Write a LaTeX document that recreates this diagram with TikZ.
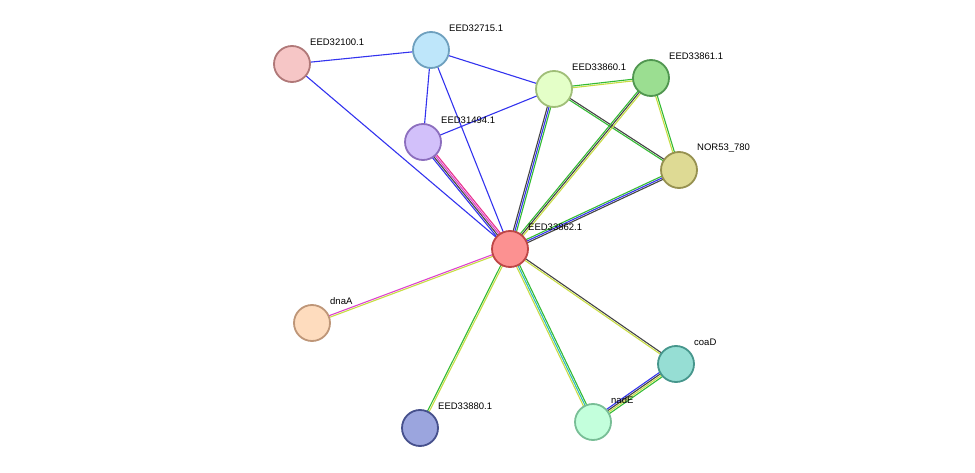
\documentclass[tikz,border=0pt]{standalone}
\usepackage{fontspec}
\setmainfont{Liberation Sans}
\usetikzlibrary{calc,positioning}
\definecolor{eblue}{HTML}{3333ee}
\definecolor{egreen}{HTML}{33bb33}
\definecolor{eyellow}{HTML}{c8dd44}
\definecolor{edark}{HTML}{444444}
\definecolor{emag}{HTML}{dd44cc}
\definecolor{ecyan}{HTML}{33bbbb}
\tikzset{
  prot/.style={circle, draw, line width=1.8pt, minimum size=36pt, inner sep=0pt},
  lbl/.style={anchor=west, inner sep=1pt, font=\fontsize{9.5}{11}\selectfont},
  link/.style={line width=1.1pt}
}
% #1, #2: nodes, #3: list of offset/colour
\newcommand\edgeset[3]{%
  \foreach \o/\c in {#3} {
    \draw[link, color=\c] ($(#1)!\o*1.7pt!90:(#2)$) -- ($(#2)!\o*1.7pt!-90:(#1)$);
  }}
\begin{document}
\begin{tikzpicture}[x=1pt, y=-1pt]
  \useasboundingbox (0,0) rectangle (975,473);
  % positions
  \coordinate (p32100) at (292,64);
  \coordinate (p32715) at (431,50);
  \coordinate (p33860) at (554,89);
  \coordinate (p33861) at (651,78);
  \coordinate (p31494) at (423,142);
  \coordinate (pnor) at (679,170);
  \coordinate (p33862) at (510,249);
  \coordinate (pdnaA) at (312,323);
  \coordinate (pcoaD) at (676,364);
  \coordinate (pnadE) at (593,422);
  \coordinate (p33880) at (420,428);

  \edgeset{p32100}{p32715}{0/eblue}
  \edgeset{p32100}{p33862}{0/eblue}
  \edgeset{p32715}{p31494}{0/eblue}
  \edgeset{p32715}{p33862}{0/eblue}
  \edgeset{p32715}{p33860}{0/eblue}
  \edgeset{p31494}{p33860}{0/eblue}
  \edgeset{p31494}{p33862}{-1.5/eblue,-0.5/edark,0.5/emag,1.5/emag!70!red}
  \edgeset{p33860}{p33861}{-0.5/eyellow,0.5/egreen}
  \edgeset{p33860}{pnor}{-0.5/egreen,0.5/edark}
  \edgeset{p33860}{p33862}{-1/edark,0/eblue,1/egreen}
  \edgeset{p33861}{pnor}{-0.5/eyellow,0.5/egreen}
  \edgeset{p33861}{p33862}{-1/egreen,0/edark,1/eyellow}
  \edgeset{pnor}{p33862}{-1/egreen,0/eblue,1/edark}
  \edgeset{pdnaA}{p33862}{-0.5/eyellow,0.5/emag}
  \edgeset{p33880}{p33862}{-0.5/eyellow,0.5/egreen}
  \edgeset{pnadE}{p33862}{-1/egreen,0/ecyan,1/eyellow}
  \edgeset{pcoaD}{p33862}{-0.5/edark,0.5/eyellow}
  \edgeset{pcoaD}{pnadE}{-1.5/eblue,-0.5/edark,0.5/eyellow,1.5/egreen}

  \node[prot, draw={rgb,255:red,176;green,120;blue,120}, fill={rgb,255:red,246;green,198;blue,198}] (n32100) at (p32100) {};
  \node[prot, draw={rgb,255:red,110;green,160;blue,190}, fill={rgb,255:red,190;green,230;blue,250}] (n32715) at (p32715) {};
  \node[prot, draw={rgb,255:red,160;green,190;blue,120}, fill={rgb,255:red,228;green,255;blue,200}] (n33860) at (p33860) {};
  \node[prot, draw={rgb,255:red,80;green,150;blue,80}, fill={rgb,255:red,155;green,222;blue,145}] (n33861) at (p33861) {};
  \node[prot, draw={rgb,255:red,140;green,110;blue,190}, fill={rgb,255:red,210;green,192;blue,250}] (n31494) at (p31494) {};
  \node[prot, draw={rgb,255:red,150;green,145;blue,80}, fill={rgb,255:red,222;green,218;blue,148}] (nnor) at (pnor) {};
  \node[prot, draw={rgb,255:red,190;green,70;blue,70}, fill={rgb,255:red,252;green,145;blue,145}] (n33862) at (p33862) {};
  \node[prot, draw={rgb,255:red,190;green,150;blue,120}, fill={rgb,255:red,254;green,220;blue,190}] (ndnaA) at (pdnaA) {};
  \node[prot, draw={rgb,255:red,70;green,150;blue,140}, fill={rgb,255:red,150;green,222;blue,212}] (ncoaD) at (pcoaD) {};
  \node[prot, draw={rgb,255:red,120;green,190;blue,150}, fill={rgb,255:red,195;green,255;blue,220}] (nnadE) at (pnadE) {};
  \node[prot, draw={rgb,255:red,70;green,80;blue,140}, fill={rgb,255:red,155;green,165;blue,222}] (n33880) at (p33880) {};

  \node[lbl] at ($(n32100)+(17,-22)$) {EED32100.1};
  \node[lbl] at ($(n32715)+(17,-22)$) {EED32715.1};
  \node[lbl] at ($(n33860)+(17,-22)$) {EED33860.1};
  \node[lbl] at ($(n33861)+(17,-22)$) {EED33861.1};
  \node[lbl] at ($(n31494)+(17,-22)$) {EED31494.1};
  \node[lbl] at ($(nnor)+(17,-22)$) {NOR53\_780};
  \node[lbl] at ($(n33862)+(17,-22)$) {EED33862.1};
  \node[lbl] at ($(ndnaA)+(17,-22)$) {dnaA};
  \node[lbl] at ($(ncoaD)+(17,-22)$) {coaD};
  \node[lbl] at ($(nnadE)+(17,-22)$) {nadE};
  \node[lbl] at ($(n33880)+(17,-22)$) {EED33880.1};
\end{tikzpicture}
\end{document}
